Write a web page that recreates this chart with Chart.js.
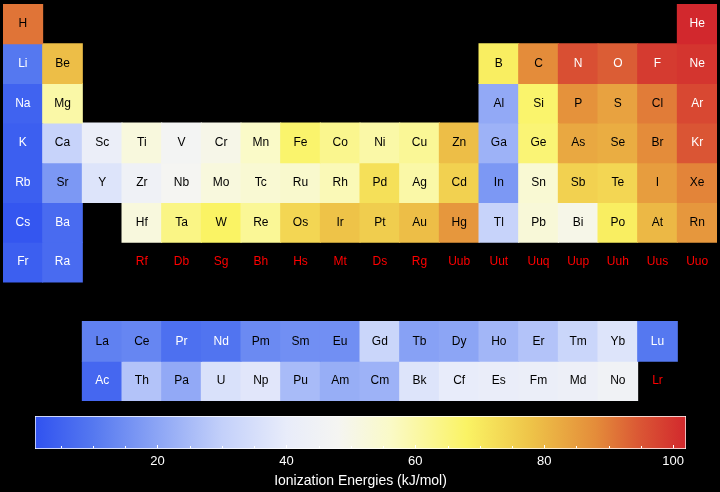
<!DOCTYPE html>
<html>
<head>
<meta charset="utf-8">
<script src="https://cdn.jsdelivr.net/npm/chart.js@4/dist/chart.umd.min.js"></script>
<style>
  body{margin:0;background:#000;width:720px;height:492px;overflow:hidden;}
  #table{position:absolute;left:0;top:0;}
  #legend{position:absolute;left:0;top:405px;}
</style>
</head>
<body>
<canvas id="table" width="720" height="405"></canvas>
<canvas id="legend" width="720" height="87"></canvas>
<script>
// element symbols, one array per table row ('' = empty cell)
var period1 = ['H','','','','','','','','','','','','','','','','','He'];
var period2 = ['Li','Be','','','','','','','','','','','B','C','N','O','F','Ne'];
var period3 = ['Na','Mg','','','','','','','','','','','Al','Si','P','S','Cl','Ar'];
var period4 = ['K','Ca','Sc','Ti','V','Cr','Mn','Fe','Co','Ni','Cu','Zn','Ga','Ge','As','Se','Br','Kr'];
var period5 = ['Rb','Sr','Y','Zr','Nb','Mo','Tc','Ru','Rh','Pd','Ag','Cd','In','Sn','Sb','Te','I','Xe'];
var period6 = ['Cs','Ba','','Hf','Ta','W','Re','Os','Ir','Pt','Au','Hg','Tl','Pb','Bi','Po','At','Rn'];
var period7 = ['Fr','Ra','','Rf','Db','Sg','Bh','Hs','Mt','Ds','Rg','Uub','Uut','Uuq','Uup','Uuh','Uus','Uuo'];
var lanthanides = ['','','La','Ce','Pr','Nd','Pm','Sm','Eu','Gd','Tb','Dy','Ho','Er','Tm','Yb','Lu',''];
var actinides = ['','','Ac','Th','Pa','U','Np','Pu','Am','Cm','Bk','Cf','Es','Fm','Md','No','Lr',''];

// values (null = no data)
var energy1 = [91,null,null,null,null,null,null,null,null,null,null,null,null,null,null,null,null,102];
var energy2 = [10,79,null,null,null,null,null,null,null,null,null,null,69,88,96,94,99,100];
var energy3 = [5,60,null,null,null,null,null,null,null,null,null,null,21,67,87,84,90,97];
var energy4 = [4,31,42,52,47,50,56,67,63,60,62,79,23,66,83,82,88,95];
var energy5 = [4,17,37,44,48,52,54,55,58,72,60,75,17,54,75,74,85,89];
var energy6 = [2,7,null,52,64,68,62,74,78,76,79,86,31,53,50,69,80,86];
var energy7 = [4,7,null,null,null,null,null,null,null,null,null,null,null,null,null,null,null,null];
var energyLa = [null,null,12,13,8,9,14,15,15,32,19,20,24,27,32,37,10,null];
var energyAc = [null,null,6,27,21,36,38,25,22,23,37,40,41,42,43,45,null,null];

var columns = ['1','2','3','4','5','6','7','8','9','10','11','12','13','14','15','16','17','18'];

// colour scale
var scaleMin = 1;
var scaleMax = 102;
var scaleTicks = [20,40,60,80,100];
var stopValues = [1,10,20,30,40,48,56,68,78,88,95,102];
var stopColors = [[48,82,240],[85,120,240],[140,165,245],[195,208,250],[232,236,250],[245,245,242],
                  [250,250,200],[250,243,100],[238,195,72],[228,140,58],[218,85,52],[210,40,45]];

var tableSymbols = [period1,period2,period3,period4,period5,period6,period7,[],lanthanides,actinides];
var tableEnergy = [energy1,energy2,energy3,energy4,energy5,energy6,energy7,[],energyLa,energyAc];

var fontFamily = '"Liberation Sans", Arial, Helvetica, sans-serif';

function getColor(v){
  if(v==null) return 'rgba(0,0,0,0)';
  if(v<=stopValues[0]) return toRgb(stopColors[0]);
  for(var i=1;i<stopValues.length;i++){
    if(v<=stopValues[i]){
      var t = (v-stopValues[i-1])/(stopValues[i]-stopValues[i-1]);
      var a = stopColors[i-1], b = stopColors[i];
      return toRgb([a[0]+(b[0]-a[0])*t, a[1]+(b[1]-a[1])*t, a[2]+(b[2]-a[2])*t]);
    }
  }
  return toRgb(stopColors[stopColors.length-1]);
}
function toRgb(c){
  return "rgb(" + Math.round(c[0]) + "," + Math.round(c[1]) + "," + Math.round(c[2]) + ")";
}

function buildDatasets(){
  var sets = [];
  for(var r=0;r<tableEnergy.length;r++){
    if(tableEnergy[r].length==0) continue;
    var data = [];
    var color = [];
    for(var c=0;c<18;c++){
      var v = tableEnergy[r][c];
      data.push(v==null ? null : [r, r+1]);
      color.push(getColor(v));
    }
    sets.push({
      label: 'row'+r,
      data: data,
      backgroundColor: color,
      borderWidth: 0,
      inflateAmount: 0.5, // hide the seams between cells
      barPercentage: 1,
      categoryPercentage: 1,
      grouped: false
    });
  }
  return sets;
}

// symbol text on each cell
var symbolPlugin = {
  id: 'symbols',
  afterDatasetsDraw: function(chart){
    var ctx = chart.ctx;
    var xs = chart.scales.x, ys = chart.scales.y;
    ctx.save();
    ctx.font = '12px ' + fontFamily;
    ctx.textAlign = 'center';
    ctx.textBaseline = 'middle';
    for(var r=0;r<tableSymbols.length;r++){
      for(var c=0;c<tableSymbols[r].length;c++){
        var s = tableSymbols[r][c];
        if(!s) continue;
        var v = tableEnergy[r][c];
        if(v==null) ctx.fillStyle = '#ff0000';
        else if(v<11 || v>93) ctx.fillStyle = '#ffffff';
        else ctx.fillStyle = '#000000';
        ctx.fillText(s, xs.getPixelForValue(c), ys.getPixelForValue(r+0.5));
      }
    }
    ctx.restore();
  }
};

var tableChart = new Chart(document.getElementById('table'), {
  type: 'bar',
  data: { labels: columns, datasets: buildDatasets() },
  options: {
    responsive: false,
    animation: false,
    devicePixelRatio: 1,
    layout: { padding: { left: 3, right: 3, top: 4, bottom: 4 } },
    plugins: { legend: { display: false }, tooltip: { enabled: false } },
    scales: {
      x: { display: false },
      y: { display: false, min: 0, max: 10, reverse: true }
    }
  },
  plugins: [symbolPlugin]
});

// colour bar
function barGradient(context){
  var chart = context.chart;
  var xs = chart.scales.x;
  if(!chart.chartArea || !xs) return '#ffffff';
  var x0 = xs.getPixelForValue(scaleMin), x1 = xs.getPixelForValue(scaleMax);
  var g = chart.ctx.createLinearGradient(x0, 0, x1, 0);
  for(var i=0;i<stopValues.length;i++){
    g.addColorStop((stopValues[i]-scaleMin)/(scaleMax-scaleMin), toRgb(stopColors[i]));
  }
  return g;
}

var minorTicks = {
  id: 'minorTicks',
  afterDatasetsDraw: function(chart){
    var ctx = chart.ctx;
    var xs = chart.scales.x;
    var bottom = chart.chartArea.bottom;
    ctx.save();
    ctx.strokeStyle = '#ffffff';
    ctx.lineWidth = 1;
    for(var v=5;v<=100;v+=5){
      var x = Math.round(xs.getPixelForValue(v)) + 0.5;
      var len = (v%20==0) ? 3 : 2;
      ctx.beginPath();
      ctx.moveTo(x, bottom-1);
      ctx.lineTo(x, bottom-1-len);
      ctx.stroke();
    }
    ctx.restore();
  }
};

var legendChart = new Chart(document.getElementById('legend'), {
  type: 'bar',
  data: {
    labels: ['scale'],
    datasets: [{
      data: [[scaleMin, scaleMax]],
      backgroundColor: barGradient,
      borderColor: '#ffffff',
      borderWidth: 1,
      borderSkipped: false,
      barPercentage: 1,
      categoryPercentage: 1
    }]
  },
  options: {
    indexAxis: 'y',
    responsive: false,
    animation: false,
    devicePixelRatio: 1,
    layout: { padding: { left: 35, right: 34, top: 11, bottom: 0 } },
    plugins: { legend: { display: false }, tooltip: { enabled: false } },
    scales: {
      y: { display: false },
      x: {
        type: 'linear',
        min: scaleMin,
        max: scaleMax,
        afterBuildTicks: function(s){
          s.ticks = scaleTicks.map(function(v){ return {value: v}; });
        },
        afterFit: function(s){ s.height = 43; },
        grid: { display: false, drawTicks: false },
        border: { display: false },
        ticks: {
          color: '#ffffff',
          padding: 5,
          maxRotation: 0,
          autoSkip: false,
          font: { family: fontFamily, size: 13 }
        },
        title: {
          display: true,
          text: 'Ionization Energies (kJ/mol)',
          color: '#ffffff',
          padding: { top: 0, bottom: 2 },
          font: { family: fontFamily, size: 14 }
        }
      }
    }
  },
  plugins: [minorTicks]
});
</script>
</body>
</html>
